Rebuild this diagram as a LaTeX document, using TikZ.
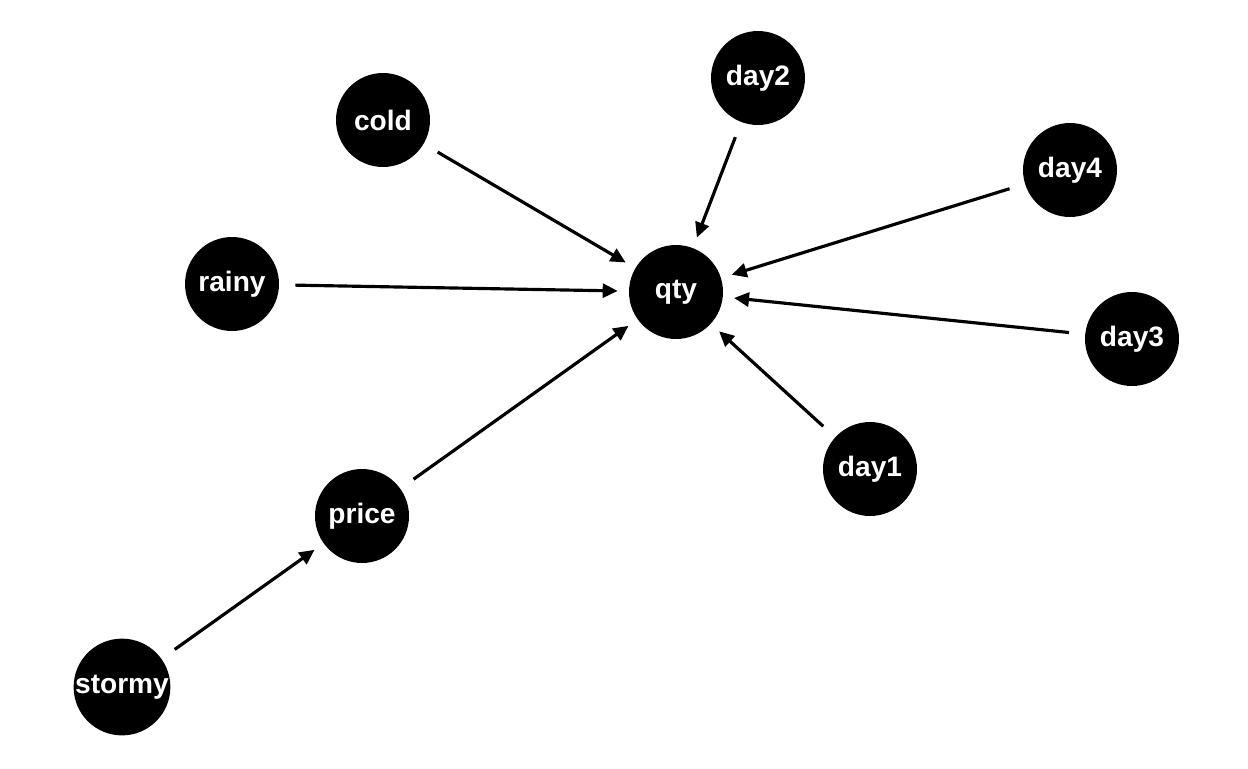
\documentclass[tikz,border=0pt]{standalone}
\usepackage{fontspec}
\setmainfont{Liberation Sans}
\usepackage{tikz}
\usetikzlibrary{arrows.meta}
\tikzset{ dag_var/.style = {circle, fill=black, text=white, inner sep=0pt, minimum size=1.88cm, font=\fontsize{16}{18}\selectfont\bfseries} }
\tikzset{ dag_arrow/.style = {line width=1.8pt, -{Triangle[length=3mm,width=2.8mm]}, shorten <=0.32cm, shorten >=0.22cm} }

\begin{document}
\begin{tikzpicture}[x=0.02cm,y=-0.02cm]
            \useasboundingbox (0,0) rectangle (1248,768);
                \node [style=dag_var] (cold) at (383, 120) {cold};
                \node [style=dag_var] (day2) at (758, 78) {day2};
                \node [style=dag_var] (day4) at (1070, 170) {day4};
                \node [style=dag_var] (rainy) at (232, 284) {rainy};
                \node [style=dag_var] (qty) at (676, 292) {qty};
                \node [style=dag_var] (day3) at (1132, 339) {day3};
                \node [style=dag_var] (day1) at (870, 469) {day1};
                \node [style=dag_var] (price) at (362, 516) {price};
                \node [style=dag_var] (stormy) at (122, 687) {stormy};
                \draw[style=dag_arrow] (cold) to (qty);
                \draw[style=dag_arrow] (day2) to (qty);
                \draw[style=dag_arrow] (day4) to (qty);
                \draw[style=dag_arrow] (rainy) to (qty);
                \draw[style=dag_arrow] (day3) to (qty);
                \draw[style=dag_arrow] (day1) to (qty);
                \draw[style=dag_arrow] (price) to (qty);
                \draw[style=dag_arrow] (stormy) to (price);
        \end{tikzpicture}
\end{document}
